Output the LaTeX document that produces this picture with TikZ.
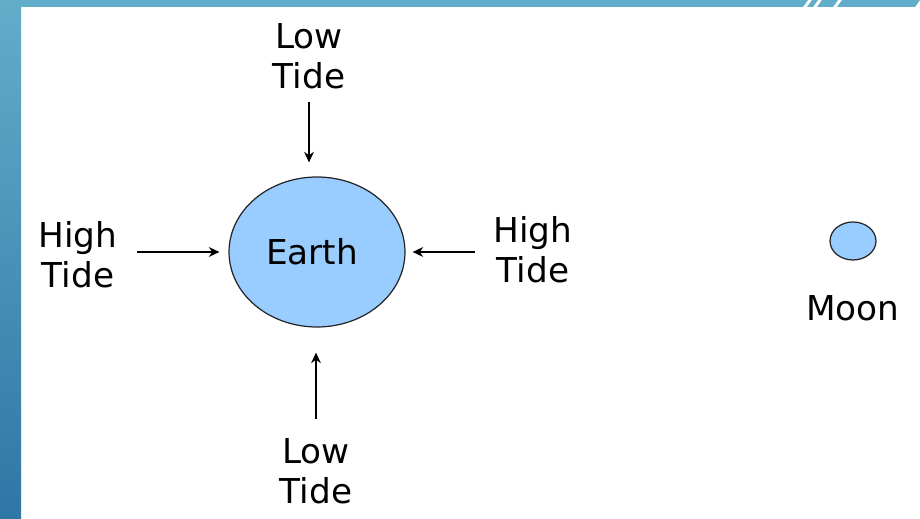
\documentclass[tikz,border=0pt]{standalone}
\usepackage{fontspec}
\setmainfont{DejaVu Sans}
\usetikzlibrary{arrows.meta,positioning,shapes.geometric}
\definecolor{barblue}{HTML}{62ADCA}
\definecolor{bardeep}{HTML}{2E77A5}
\definecolor{earthblue}{HTML}{99CCFF}

\begin{document}
\begin{tikzpicture}[
    x=0.02cm, y=-0.02cm,
    every node/.style={font=\fontsize{19.5}{22.8}\selectfont, align=center, inner sep=0pt},
    body/.style={ellipse, draw=black!85, line width=0.7pt, fill=earthblue},
    tide/.style={-{Stealth[length=6pt,width=5.5pt]}, line width=1.3pt}
]
\useasboundingbox (0,0) rectangle (920,519);

% Frame bars
\shade[top color=barblue, bottom color=bardeep] (0,0) rectangle (21,519);
\fill[barblue] (0,0) -- (808,0) -- (803,7) -- (0,7) -- cycle;
\fill[barblue] (812,0) -- (818,0) -- (813,7) -- (807,7) -- cycle;
\fill[barblue] (822,0) -- (838,0) -- (833,7) -- (817,7) -- cycle;
\fill[barblue] (842,0) -- (920,0) -- (915,7) -- (837,7) -- cycle;

% Bodies
\node[body, minimum width=3.52cm, minimum height=3cm] (earth) at (317,252) {\hspace*{-0.2cm}Earth};
\node[body, minimum width=0.92cm, minimum height=0.76cm] (moon) at (853,241) {};
\node (moonlbl) [below=0.7cm of moon] {Moon};

% Tide labels
\node (lowtop) at (309,56) {Low\\Tide};
\node (lowbot) at (316,471) {Low\\Tide};
\node (highl) at (78,255) {High\\Tide};
\node (highr) at (533,250) {High\\Tide};

% Arrows
\draw[tide, shorten <=0.26cm, shorten >=0.28cm] (lowtop.south) -- (lowtop.south |- earth.north);
\draw[tide, shorten <=0.38cm, shorten >=0.5cm] (lowbot.north) -- (lowbot.north |- earth.south);
\draw[tide, shorten <=0.38cm, shorten >=0.18cm] (highl.east |- earth.west) -- (earth.west);
\draw[tide, shorten <=0.36cm, shorten >=0.14cm] (highr.west |- earth.east) -- (earth.east);

\end{tikzpicture}
\end{document}
